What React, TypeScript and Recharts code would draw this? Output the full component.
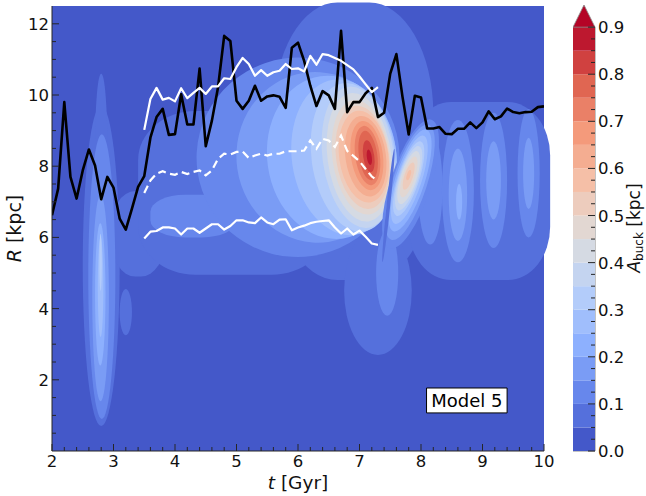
import React from 'react';
import { ComposedChart, BarChart, Bar, Line, XAxis, YAxis, ReferenceArea, Label } from 'recharts';

// contour levels of A_buck (kpc) and colorbar ticks
const levels = [0, 0.05, 0.1, 0.15, 0.2, 0.25, 0.3, 0.35, 0.4, 0.45, 0.5, 0.55, 0.6, 0.65, 0.7, 0.75, 0.8, 0.85, 0.9];
const cbarMajor = [0, 0.1, 0.2, 0.3, 0.4, 0.5, 0.6, 0.7, 0.8, 0.9];
const tMajor = [2, 3, 4, 5, 6, 7, 8, 9, 10];
const rMajor = [2, 4, 6, 8, 10, 12];

// black curve, sampled every 0.1 Gyr from t = 2.0
const blackR = [
  6.62, 7.37, 9.8, 7.7, 7.09, 7.88, 8.47, 8.02, 7.07, 7.7,
  7.4, 6.53, 6.22, 6.81, 7.42, 7.72, 8.8, 9.38, 9.61, 8.88,
  8.9, 10.02, 9.17, 9.17, 10.74, 8.56, 9.28, 10.22, 11.66, 11.52,
  9.84, 9.61, 9.84, 10.26, 9.84, 9.96, 9.99, 9.95, 9.64, 11.33,
  11.47, 10.96, 10.26, 9.69, 10.11, 9.99, 9.61, 11.8, 9.52, 9.8,
  9.8, 10.05, 10.2, 9.38, 9.5, 10.6, 11.15, 9.94, 8.89, 9.98,
  9.93, 9.06, 9.06, 9.1, 8.91, 8.9, 9.05, 9.05, 9.23, 9.07,
  9.23, 9.54, 9.32, 9.4, 9.62, 9.52, 9.49, 9.52, 9.53, 9.66,
  9.68,
];
// white curves, sampled every 0.1 Gyr from t = 3.5
const upperR = [
  9.02, 9.89, 10.2, 9.87, 9.92,
  9.82, 10.19, 9.91, 10.06, 10.2, 10.03, 10.24, 10.24, 10.47, 10.45,
  10.78, 11.04, 10.87, 10.54, 10.7, 10.54, 10.64, 10.68, 10.87, 10.73,
  10.75, 10.66, 11.1, 10.85, 11.15, 11.12, 11.04, 10.96, 10.84, 10.72,
  10.52, 10.3, 10.08, 10.22,
];
const midR = [
  7.25, 7.6, 7.79, 7.86, 7.79,
  7.76, 7.84, 7.78, 7.84, 7.88, 7.74, 7.88, 8.21, 8.35, 8.33,
  8.4, 8.41, 8.23, 8.3, 8.35, 8.3, 8.35, 8.35, 8.42, 8.42,
  8.42, 8.44, 8.72, 8.49, 8.77, 8.72, 8.54, 8.86, 8.43, 8.29,
  8.14, 7.92, 7.71, 7.58,
];
const lowerR = [
  5.97, 6.16, 6.18, 6.28, 6.28,
  6.25, 6.08, 6.25, 6.25, 6.13, 6.25, 6.37, 6.37, 6.22, 6.32,
  6.48, 6.48, 6.42, 6.4, 6.56, 6.42, 6.37, 6.5, 6.51, 6.2,
  6.28, 6.33, 6.4, 6.44, 6.46, 6.48, 6.28, 6.11, 6.25, 6.08,
  6.19, 6.02, 5.83, 5.79,
];

// filled-contour regions: band index, centre (t, R), half sizes
type Blob = { b: number; t: number; r: number; dt: number; dr: number; k?: number; rot?: number };
const baseBlobs: Blob[] = [
  { b: 1, t: 2.8, r: 5.2, dt: 0.3, dr: 4.5 },
  { b: 1, t: 2.8, r: 8.6, dt: 0.1, dr: 2.0 },
  { b: 1, t: 3.2, r: 3.9, dt: 0.1, dr: 0.65 },
  { b: 1, t: 3.4, r: 6.1, dt: 0.45, dr: 1.2, k: 0.9 },
  { b: 1, t: 4.95, r: 7.25, dt: 1.55, dr: 2.3, k: 0.6 },
  { b: 1, t: 6.9, r: 8.7, dt: 1.3, dr: 3.9, k: 0.8 },
  { b: 1, t: 8.95, r: 7.3, dt: 1.15, dr: 2.5, k: 0.6 },
  { b: 1, t: 7.3, r: 4.5, dt: 0.55, dr: 1.8 },
  { b: 2, t: 4.3, r: 6.6, dt: 0.7, dr: 0.6, k: 0.8 },
  { b: 2, t: 7.45, r: 5.0, dt: 0.18, dr: 1.2 },
  { b: 2, t: 8.15, r: 7.4, dt: 0.2, dr: 1.6 },
];
const spikeBlobs: Blob[] = [
  { b: 2, t: 2.81, r: 4.9, dt: 0.22, dr: 4.0 },
  { b: 3, t: 2.79, r: 4.3, dt: 0.135, dr: 2.9 },
  { b: 4, t: 2.785, r: 4.4, dt: 0.085, dr: 2.0 },
  { b: 5, t: 2.79, r: 4.6, dt: 0.045, dr: 1.4 },
  { b: 6, t: 2.79, r: 5.3, dt: 0.02, dr: 0.8 },
];
const stripeBlobs: Blob[] = [
  { b: 2, t: 8.6, r: 7.3, dt: 0.26, dr: 2.0 },
  { b: 3, t: 8.6, r: 7.2, dt: 0.15, dr: 1.3 },
  { b: 4, t: 8.62, r: 7.0, dt: 0.05, dr: 0.5 },
  { b: 2, t: 9.18, r: 7.6, dt: 0.22, dr: 1.9 },
  { b: 3, t: 9.18, r: 7.6, dt: 0.12, dr: 1.1 },
  { b: 2, t: 9.75, r: 7.8, dt: 0.18, dr: 1.8 },
  { b: 3, t: 9.75, r: 7.8, dt: 0.09, dr: 1.0 },
];
const mainBlobs: Blob[] = [
  { b: 2, t: 6.0, r: 8.25, dt: 1.65, dr: 2.8 },
  { b: 3, t: 6.3, r: 8.25, dt: 1.3, dr: 2.4 },
  { b: 4, t: 6.55, r: 8.25, dt: 1.05, dr: 2.3 },
  { b: 5, t: 6.75, r: 8.25, dt: 0.85, dr: 2.2 },
  { b: 6, t: 6.9, r: 8.25, dt: 0.68, dr: 2.1 },
  { b: 7, t: 6.98, r: 8.25, dt: 0.58, dr: 2.0 },
  { b: 8, t: 7.0, r: 8.25, dt: 0.52, dr: 1.82 },
  { b: 9, t: 7.03, r: 8.25, dt: 0.47, dr: 1.62 },
  { b: 10, t: 7.05, r: 8.25, dt: 0.43, dr: 1.46 },
  { b: 11, t: 7.07, r: 8.27, dt: 0.4, dr: 1.3 },
  { b: 12, t: 7.1, r: 8.28, dt: 0.33, dr: 1.14 },
  { b: 13, t: 7.12, r: 8.3, dt: 0.26, dr: 0.98 },
  { b: 14, t: 7.13, r: 8.3, dt: 0.2, dr: 0.84 },
  { b: 15, t: 7.14, r: 8.3, dt: 0.15, dr: 0.7 },
  { b: 16, t: 7.15, r: 8.28, dt: 0.09, dr: 0.45 },
  { b: 17, t: 7.16, r: 8.25, dt: 0.04, dr: 0.22 },
];
const secondBlobs: Blob[] = [
  { b: 2, t: 7.83, r: 7.5, dt: 0.33, dr: 1.9 },
  { b: 3, t: 7.82, r: 7.55, dt: 0.28, dr: 1.7 },
  { b: 4, t: 7.82, r: 7.6, dt: 0.24, dr: 1.5 },
  { b: 5, t: 7.81, r: 7.62, dt: 0.2, dr: 1.3 },
  { b: 6, t: 7.8, r: 7.65, dt: 0.17, dr: 1.1 },
  { b: 7, t: 7.8, r: 7.66, dt: 0.15, dr: 0.95 },
  { b: 8, t: 7.8, r: 7.68, dt: 0.13, dr: 0.78 },
  { b: 9, t: 7.8, r: 7.7, dt: 0.1, dr: 0.6 },
  { b: 10, t: 7.8, r: 7.72, dt: 0.07, dr: 0.4 },
  { b: 11, t: 7.8, r: 7.75, dt: 0.03, dr: 0.15 },
];
const gapBlobs: Blob[] = [{ b: 1, t: 7.47, r: 6.9, dt: 0.03, dr: 1.6, rot: 6 }];

const FONT = '"DejaVu Sans", sans-serif';
const AXC = '#262626';

const coolwarm: [number, number[]][] = [
  [0, [59, 76, 192]], [0.125, [98, 130, 234]], [0.25, [141, 176, 254]],
  [0.375, [184, 208, 249]], [0.5, [221, 221, 221]], [0.625, [245, 196, 173]],
  [0.75, [244, 154, 123]], [0.875, [222, 96, 77]], [1, [180, 4, 38]],
];
function cmap(v: number) {
  const x = Math.max(0, Math.min(1, v));
  for (let i = 1; i < coolwarm.length; i++) {
    const [x1, c1] = coolwarm[i];
    const [x0, c0] = coolwarm[i - 1];
    if (x <= x1) {
      const f = (x - x0) / (x1 - x0);
      const c = c0.map((a, j) => Math.round(a + (c1[j] - a) * f));
      return `rgb(${c[0]},${c[1]},${c[2]})`;
    }
  }
  return 'rgb(180,4,38)';
}
const bandColor = (b: number) => cmap((levels[b] + levels[b + 1]) / 2 / 0.9);

const series = (start: number, vals: number[]) =>
  vals.map((r, i) => ({ t: Math.round((start + i * 0.1) * 10) / 10, r }));

const minorTicks = (lo: number, hi: number, step: number) => {
  const out: number[] = [];
  for (let v = lo; v <= hi + 1e-9; v += step) out.push(Math.round(v * 1000) / 1000);
  return out;
};

// one row for the colorbar: each band is a stacked segment, plus the "extend max" arrow
const cbarRow: Record<string, number | string> = { name: 'cb', over: 0.047 };
levels.slice(0, -1).forEach((lo, i) => {
  cbarRow[`b${i}`] = Math.round((levels[i + 1] - lo) * 1000) / 1000;
});
const cbarData = [cbarRow];

type Side = 'bottom' | 'top' | 'left' | 'right';
function makeTick(side: Side, majors: number[], fmt: ((v: number) => string) | null, fs = 16.5) {
  return (p: any) => {
    const { x, y, payload } = p;
    const v = Number(payload.value);
    const major = majors.some((m) => Math.abs(m - v) < 1e-6);
    const L = major ? 7 : 4;
    let x2 = x;
    let y2 = y;
    if (side === 'bottom') y2 = y - L;
    if (side === 'top') y2 = y + L;
    if (side === 'left') x2 = x + L;
    if (side === 'right') x2 = x - L;
    let label = null;
    if (major && fmt) {
      const common = { fontSize: fs, fill: '#111', fontFamily: FONT };
      if (side === 'bottom') label = <text x={x} y={y + 16} textAnchor="middle" {...common}>{fmt(v)}</text>;
      if (side === 'left') label = <text x={x - 3} y={y + 6} textAnchor="end" {...common}>{fmt(v)}</text>;
      if (side === 'right') label = <text x={x + 3} y={y + 6} textAnchor="start" {...common}>{fmt(v)}</text>;
    }
    return (
      <g>
        <line x1={x} y1={y} x2={x2} y2={y2} stroke={AXC} strokeWidth={1} />
        {label}
      </g>
    );
  };
}

const blobShape = (fill: string, k: number, rot: number) => (p: any) => {
  const { x, y, width, height } = p;
  const cx = x + width / 2;
  const cy = y + height / 2;
  return (
    <rect
      x={x}
      y={y}
      width={width}
      height={height}
      rx={(k * width) / 2}
      ry={(k * height) / 2}
      fill={fill}
      transform={rot ? `rotate(${rot} ${cx} ${cy})` : undefined}
    />
  );
};

const renderBlobs = (list: Blob[], name: string, rot = 0) =>
  list.map((d, i) => (
    <ReferenceArea
      key={`${name}-${i}`}
      x1={d.t - d.dt}
      x2={d.t + d.dt}
      y1={d.r - d.dr}
      y2={d.r + d.dr}
      ifOverflow="hidden"
      shape={blobShape(bandColor(d.b), d.k ?? 1, d.rot ?? rot)}
    />
  ));

export default function App() {
  const tTicks = minorTicks(2, 10, 0.2);
  const rTicks = minorTicks(0.5, 12, 0.5);
  const cTicks = minorTicks(0, 0.9, 0.025);

  return (
    <div style={{ position: 'absolute', left: 0, top: 0, width: 646, height: 496, background: '#fff', fontFamily: FONT }}>
      <div style={{ position: 'absolute', left: 0, top: 0 }}>
        <ComposedChart width={560} height={496} margin={{ top: 6, right: 16, bottom: 15, left: 22 }}>
          <ReferenceArea x1={2} x2={10} y1={0} y2={12.5} fill={bandColor(0)} fillOpacity={1} ifOverflow="hidden" />
          {renderBlobs(baseBlobs, 'base')}
          {renderBlobs(spikeBlobs, 'spike')}
          {renderBlobs(stripeBlobs, 'stripe')}
          {renderBlobs(mainBlobs, 'main', -8)}
          {renderBlobs(secondBlobs, 'second', 18)}
          {renderBlobs(gapBlobs, 'gap')}

          <Line data={series(2, blackR)} dataKey="r" stroke="#000" strokeWidth={2.6} strokeLinejoin="round" dot={false} isAnimationActive={false} />
          <Line data={series(3.5, upperR)} dataKey="r" stroke="#fff" strokeWidth={2.2} strokeLinejoin="round" dot={false} isAnimationActive={false} />
          <Line data={series(3.5, midR)} dataKey="r" stroke="#fff" strokeWidth={2.2} strokeDasharray="8 4.5" dot={false} isAnimationActive={false} />
          <Line data={series(3.5, lowerR)} dataKey="r" stroke="#fff" strokeWidth={2.2} strokeLinejoin="round" dot={false} isAnimationActive={false} />

          <ReferenceArea
            x1={8.09}
            x2={9.4}
            y1={1.07}
            y2={1.77}
            fill="#fff"
            fillOpacity={1}
            stroke="#000"
            strokeWidth={1}
            label={{ value: 'Model 5', position: 'center', fontSize: 18, fill: '#000', fontFamily: FONT }}
          />

          <XAxis
            dataKey="t"
            type="number"
            domain={[2, 10]}
            allowDataOverflow
            ticks={tTicks}
            interval={0}
            height={30}
            tickSize={0}
            tickMargin={0}
            tickLine={false}
            axisLine={{ stroke: AXC }}
            tick={makeTick('bottom', tMajor, (v) => String(v))}
          >
            <Label
              content={(p: any) => (
                <text x={p.viewBox.x + p.viewBox.width / 2} y={p.viewBox.y + 37.5} textAnchor="middle" fontSize={18.5} fill="#111" fontFamily={FONT}>
                  <tspan fontStyle="italic">t</tspan> [Gyr]
                </text>
              )}
            />
          </XAxis>
          <XAxis
            xAxisId="top"
            orientation="top"
            type="number"
            domain={[2, 10]}
            allowDataOverflow
            ticks={tTicks}
            interval={0}
            height={0}
            tickSize={0}
            tickMargin={0}
            tickLine={false}
            axisLine={{ stroke: AXC }}
            tick={makeTick('top', tMajor, null)}
          />
          <YAxis
            type="number"
            domain={[0, 12.5]}
            allowDataOverflow
            ticks={rTicks}
            interval={0}
            width={30}
            tickSize={0}
            tickMargin={0}
            tickLine={false}
            axisLine={{ stroke: AXC }}
            tick={makeTick('left', rMajor, (v) => String(v))}
          >
            <Label
              content={(p: any) => {
                const x = p.viewBox.x - 1;
                const y = p.viewBox.y + p.viewBox.height / 2;
                return (
                  <text x={x} y={y} transform={`rotate(-90 ${x} ${y})`} textAnchor="middle" fontSize={19} fill="#111" fontFamily={FONT}>
                    <tspan fontStyle="italic">R</tspan> [kpc]
                  </text>
                );
              }}
            />
          </YAxis>
          <YAxis
            yAxisId="right"
            orientation="right"
            type="number"
            domain={[0, 12.5]}
            allowDataOverflow
            ticks={rTicks}
            interval={0}
            width={0}
            tickSize={0}
            tickMargin={0}
            tickLine={false}
            axisLine={{ stroke: AXC }}
            tick={makeTick('right', rMajor, null)}
          />
        </ComposedChart>
      </div>

      <div style={{ position: 'absolute', left: 573, top: 0 }}>
        <BarChart
          width={73}
          height={496}
          data={cbarData}
          margin={{ top: 5, right: 11, bottom: 45, left: 0 }}
          barCategoryGap={0}
          barGap={0}
        >
          {levels.slice(0, -1).map((_, i) => (
            <Bar key={`cb-${i}`} dataKey={`b${i}`} stackId="cb" fill={bandColor(i)} isAnimationActive={false} />
          ))}
          <Bar
            dataKey="over"
            stackId="cb"
            isAnimationActive={false}
            shape={(p: any) => (
              <polygon
                points={`${p.x},${p.y + p.height} ${p.x + p.width / 2},${p.y} ${p.x + p.width},${p.y + p.height}`}
                fill={cmap(1)}
                stroke="#888"
                strokeWidth={0.8}
              />
            )}
          />
          <ReferenceArea y1={0} y2={0.9} fill="none" fillOpacity={0} stroke="#888" strokeWidth={1} ifOverflow="visible" />
          <XAxis dataKey="name" type="category" hide />
          <YAxis
            orientation="right"
            type="number"
            domain={[0, 0.947]}
            allowDataOverflow
            ticks={cTicks}
            interval={0}
            width={40}
            tickSize={0}
            tickMargin={0}
            tickLine={false}
            axisLine={false}
            tick={makeTick('right', cbarMajor, (v) => v.toFixed(1))}
          >
            <Label
              content={(p: any) => {
                const x = p.viewBox.x + 44.5;
                const y = 228;
                return (
                  <text x={x} y={y} transform={`rotate(-90 ${x} ${y})`} textAnchor="middle" fontSize={17} fill="#111" fontFamily={FONT}>
                    <tspan fontStyle="italic">A</tspan>
                    <tspan fontSize={12} dy={3}>buck</tspan>
                    <tspan dy={-3}> [kpc]</tspan>
                  </text>
                );
              }}
            />
          </YAxis>
        </BarChart>
      </div>
    </div>
  );
}
